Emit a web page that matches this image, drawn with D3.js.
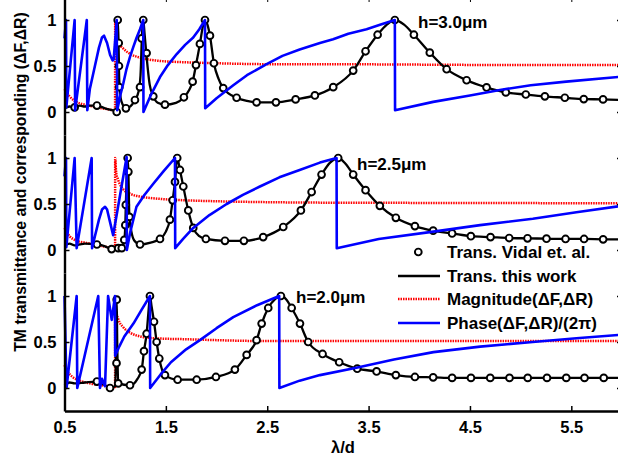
<!DOCTYPE html>
<html>
<head>
<meta charset="utf-8">
<script src="https://cdn.jsdelivr.net/npm/d3@7"></script>
<style>
  body { margin: 0; background: #fff; }
  text { font-family: "Liberation Sans", Arial, sans-serif; font-weight: bold; }
</style>
</head>
<body>
<div id="chart"></div>
<script>
const width = 618
const height = 461

const xTicks = [0.5, 1.5, 2.5, 3.5, 4.5, 5.5]
const yTicks = [0, 0.5, 1]
const panelLabels = ["h=3.0\u03bcm", "h=2.5\u03bcm", "h=2.0\u03bcm"]
const legendLabels = ["Trans. Vidal et. al.", "Trans. this work", "Magnitude(\u0394F,\u0394R)", "Phase(\u0394F,\u0394R)/(2\u03c0)"]

// h = 3.0um
const vidal30 = [[0.6,0.05],[0.82,0.07],[1.015,0.0],[1.025,1.0],[1.035,0.75],[1.037,0.5],[1.04,0.27],[1.106,0.04],[1.195,0.13],[1.245,0.27],[1.261,0.80],[1.277,1.0],[1.31,0.64],[1.376,0.17],[1.491,0.08],[1.678,0.16],[1.764,0.33],[1.797,0.51],[1.836,0.74],[1.886,1.0],[1.935,0.83],[1.974,0.53],[2.066,0.26],[2.198,0.155],[2.395,0.105],[2.586,0.105],[2.78,0.137],[2.97,0.18],[3.151,0.27],[3.348,0.45],[3.47,0.66],[3.589,0.84],[3.759,1.0],[3.947,0.84],[4.104,0.645],[4.27,0.465],[4.467,0.345],[4.664,0.267],[4.854,0.213],[5.051,0.19],[5.239,0.17],[5.436,0.155],[5.623,0.14],[5.813,0.137]]
const trans30 = [[0.5,0.04],[0.55,0.06],[0.6,0.05],[0.65,0.07],[0.7,0.06],[0.75,0.07],[0.82,0.07],[0.9,0.04],[0.97,0.02],[1.0,0.01],[1.015,0.0],[1.021,0.6],[1.025,1.0],[1.032,0.8],[1.04,0.35],[1.06,0.12],[1.106,0.04],[1.15,0.06],[1.195,0.13],[1.23,0.22],[1.25,0.4],[1.265,0.85],[1.277,1.0],[1.29,0.85],[1.31,0.6],[1.34,0.3],[1.376,0.17],[1.42,0.1],[1.491,0.08],[1.6,0.1],[1.678,0.16],[1.73,0.24],[1.764,0.33],[1.797,0.51],[1.836,0.74],[1.865,0.93],[1.886,1.0],[1.91,0.95],[1.935,0.83],[1.974,0.53],[2.02,0.36],[2.066,0.26],[2.198,0.155],[2.3,0.12],[2.395,0.105],[2.586,0.105],[2.78,0.137],[2.97,0.18],[3.151,0.27],[3.348,0.45],[3.47,0.66],[3.589,0.84],[3.68,0.95],[3.759,1.0],[3.85,0.95],[3.947,0.84],[4.104,0.645],[4.27,0.465],[4.467,0.345],[4.664,0.267],[4.854,0.213],[5.051,0.19],[5.239,0.17],[5.436,0.155],[5.623,0.14],[5.813,0.137],[6.0,0.13]]
const mag30 = [[0.5,0.25],[0.55,0.17],[0.6,0.12],[0.7,0.08],[0.8,0.055],[0.9,0.035],[0.999,0.02],[1.0,1.0],[1.01,0.85],[1.03,0.76],[1.08,0.69],[1.15,0.63],[1.25,0.59],[1.4,0.56],[1.7,0.54],[2.0,0.53],[2.5,0.52],[3.0,0.52],[4.0,0.515],[5.0,0.51],[6.0,0.51]]
const phase30 = [[0.5,0.8],[0.515,1.0],[0.518,0.05],[0.6,1.0],[0.605,0.02],[0.72,1.0],[0.725,0.02],[0.75,0.25],[0.8,0.5],[0.84,0.7],[0.87,0.81],[0.89,0.83],[0.92,0.75],[0.95,0.62],[0.975,0.56],[0.985,0.57],[1.015,1.0],[1.02,0.02],[1.05,0.18],[1.08,0.31],[1.11,0.46],[1.146,0.6],[1.18,0.71],[1.212,0.81],[1.245,0.9],[1.277,1.0],[1.279,0.0],[1.35,0.18],[1.442,0.38],[1.52,0.51],[1.607,0.63],[1.69,0.73],[1.77,0.81],[1.83,0.9],[1.886,1.0],[1.888,0.04],[2.0,0.15],[2.165,0.29],[2.3,0.4],[2.494,0.52],[2.65,0.61],[2.82,0.68],[3.02,0.75],[3.15,0.79],[3.3,0.85],[3.48,0.9],[3.62,0.95],[3.759,1.0],[3.761,0.02],[4.137,0.11],[4.5,0.18],[4.795,0.24],[5.1,0.29],[5.45,0.33],[6.0,0.385]]

// h = 2.5um
const vidal25 = [[0.82,0.06],[0.965,0.01],[1.03,0.02],[1.065,0.02],[1.09,0.11],[1.1,0.27],[1.105,0.49],[1.123,1.0],[1.13,0.85],[1.14,0.36],[1.245,0.06],[1.442,0.12],[1.54,0.33],[1.567,0.54],[1.59,0.74],[1.612,1.0],[1.639,0.87],[1.672,0.69],[1.721,0.43],[1.77,0.24],[1.895,0.12],[2.083,0.1],[2.27,0.1],[2.46,0.14],[2.658,0.25],[2.832,0.43],[2.938,0.63],[3.036,0.82],[3.2,1.0],[3.348,0.82],[3.47,0.65],[3.611,0.48],[3.769,0.35],[3.957,0.26],[4.137,0.21],[4.324,0.18],[4.509,0.15],[4.703,0.14],[4.887,0.13],[5.068,0.127],[5.255,0.123],[5.443,0.12],[5.626,0.12],[5.814,0.116]]
const trans25 = [[0.5,0.05],[0.55,0.07],[0.6,0.05],[0.65,0.06],[0.7,0.07],[0.82,0.06],[0.9,0.04],[0.965,0.01],[1.0,0.01],[1.065,0.02],[1.09,0.11],[1.1,0.27],[1.105,0.49],[1.115,0.85],[1.123,1.0],[1.13,0.85],[1.14,0.36],[1.16,0.2],[1.19,0.1],[1.245,0.06],[1.35,0.08],[1.442,0.12],[1.5,0.2],[1.54,0.33],[1.567,0.54],[1.59,0.74],[1.612,1.0],[1.639,0.87],[1.672,0.69],[1.721,0.43],[1.77,0.24],[1.83,0.15],[1.895,0.12],[2.083,0.1],[2.27,0.1],[2.46,0.14],[2.658,0.25],[2.832,0.43],[2.938,0.63],[3.036,0.82],[3.12,0.95],[3.2,1.0],[3.27,0.94],[3.348,0.82],[3.47,0.65],[3.611,0.48],[3.769,0.35],[3.957,0.26],[4.137,0.21],[4.324,0.18],[4.509,0.15],[4.703,0.14],[4.887,0.13],[5.068,0.127],[5.255,0.123],[5.443,0.12],[5.626,0.12],[5.814,0.116],[6.0,0.115]]
const mag25 = [[0.5,0.24],[0.55,0.15],[0.6,0.11],[0.7,0.08],[0.8,0.06],[0.9,0.035],[0.999,0.02],[1.0,1.0],[1.01,0.84],[1.03,0.76],[1.08,0.66],[1.15,0.61],[1.25,0.58],[1.4,0.56],[1.7,0.54],[2.0,0.53],[2.5,0.52],[3.0,0.515],[4.0,0.512],[5.0,0.51],[6.0,0.507]]
const phase25 = [[0.5,0.8],[0.515,1.0],[0.518,0.03],[0.6,1.0],[0.62,0.02],[0.768,1.0],[0.772,0.02],[0.8,0.15],[0.84,0.33],[0.87,0.44],[0.9,0.47],[0.92,0.44],[0.95,0.3],[0.98,0.16],[1.113,1.01],[1.115,0.0],[1.15,0.2],[1.21,0.47],[1.29,0.6],[1.376,0.72],[1.48,0.86],[1.59,1.0],[1.592,0.02],[1.67,0.12],[1.77,0.24],[1.93,0.38],[2.1,0.5],[2.26,0.6],[2.428,0.69],[2.62,0.79],[2.82,0.87],[3.02,0.95],[3.184,1.0],[3.186,0.02],[3.6,0.12],[4.14,0.2],[4.6,0.27],[5.12,0.34],[5.55,0.41],[6.0,0.48]]

// h = 2.0um
const vidal20 = [[0.82,0.07],[0.949,0.0],[1.015,0.96],[1.013,0.27],[1.03,0.05],[1.146,0.03],[1.261,0.2],[1.284,0.4],[1.31,0.59],[1.343,1.0],[1.383,0.72],[1.409,0.5],[1.435,0.32],[1.491,0.14],[1.616,0.09],[1.804,0.09],[1.994,0.12],[2.181,0.2],[2.297,0.36],[2.395,0.52],[2.445,0.7],[2.51,0.87],[2.635,1.0],[2.741,0.87],[2.823,0.7],[2.904,0.5],[3.046,0.37],[3.21,0.28],[3.388,0.21],[3.579,0.18],[3.769,0.14],[3.957,0.12],[4.137,0.116],[4.324,0.11],[4.51,0.11],[4.7,0.11],[4.89,0.11],[5.07,0.11],[5.26,0.11],[5.45,0.11],[5.63,0.11],[5.82,0.11]]
const trans20 = [[0.5,0.03],[0.55,0.06],[0.6,0.05],[0.7,0.06],[0.82,0.07],[0.9,0.03],[0.949,0.0],[1.0,0.02],[1.008,0.4],[1.015,0.96],[1.02,0.5],[1.025,0.2],[1.03,0.05],[1.146,0.03],[1.22,0.1],[1.261,0.2],[1.284,0.4],[1.31,0.59],[1.33,0.85],[1.343,1.0],[1.36,0.88],[1.383,0.72],[1.409,0.5],[1.435,0.32],[1.491,0.14],[1.616,0.09],[1.804,0.09],[1.994,0.12],[2.181,0.2],[2.297,0.36],[2.395,0.52],[2.445,0.7],[2.51,0.87],[2.58,0.97],[2.635,1.0],[2.69,0.96],[2.741,0.87],[2.823,0.7],[2.904,0.5],[3.046,0.37],[3.21,0.28],[3.388,0.21],[3.579,0.18],[3.769,0.14],[3.957,0.12],[4.137,0.116],[4.324,0.11],[5.0,0.11],[6.0,0.11]]
const mag20 = [[0.5,0.25],[0.53,0.18],[0.58,0.12],[0.65,0.08],[0.75,0.05],[0.9,0.025],[0.999,0.01],[1.0,1.0],[1.01,0.84],[1.03,0.75],[1.08,0.66],[1.15,0.6],[1.25,0.56],[1.4,0.54],[1.7,0.53],[2.0,0.52],[2.5,0.51],[3.0,0.51],[4.0,0.51],[5.0,0.51],[6.0,0.51]]
const phase20 = [[0.5,1.0],[0.52,0.0],[0.62,1.0],[0.626,0.0],[0.833,1.0],[0.85,0.0],[0.87,0.1],[0.9,0.02],[0.93,1.0],[0.966,0.74],[0.998,1.0],[1.0,0.35],[1.04,0.45],[1.09,0.56],[1.18,0.7],[1.26,0.85],[1.343,1.0],[1.345,0.0],[1.45,0.15],[1.55,0.28],[1.7,0.42],[1.836,0.52],[2.0,0.65],[2.165,0.77],[2.4,0.9],[2.618,1.0],[2.62,0.0],[2.82,0.08],[3.02,0.14],[3.38,0.22],[3.75,0.31],[4.14,0.39],[4.6,0.45],[5.12,0.5],[5.55,0.54],[6.0,0.58]]

const panels = [
  { label: panelLabels[0], vidal: vidal30, trans: trans30, mag: mag30, phase: phase30, lx: 418, ly: 22 },
  { label: panelLabels[1], vidal: vidal25, trans: trans25, mag: mag25, phase: phase25, lx: 357, ly: 164 },
  { label: panelLabels[2], vidal: vidal20, trans: trans20, mag: mag20, phase: phase20, lx: 296, ly: 297 }
]

const plotLeft = 64.5, plotRight = 622
const panelH = 138, firstTop = -3
const bottomY = firstTop + 3 * panelH

let svg = d3.select("#chart").append("svg")
    .attr("width", width)
    .attr("height", height)

let x = d3.scaleLinear().domain([0.5, 6]).range([plotLeft, plotRight])

let line = d3.line()
    .curve(d3.curveMonotoneX)
    .x(d => x(d[0]))

panels.forEach(function (p, i) {
    let top = firstTop + i * panelH
    let y = d3.scaleLinear().domain([-0.25, 1.25]).range([top + panelH, top])
    line.y(d => y(d[1]))

    let g = svg.append("g")

    g.append("path").datum(p.mag)
        .attr("d", line)
        .attr("fill", "none").attr("stroke", "#ff0000")
        .attr("stroke-width", 2.5).attr("stroke-dasharray", "1.5,1")

    g.append("path").datum(p.trans)
        .attr("d", line)
        .attr("fill", "none").attr("stroke", "#000")
        .attr("stroke-width", 2.3)

    g.selectAll("circle").data(p.vidal).enter()
        .append("circle")
        .attr("cx", d => x(d[0]))
        .attr("cy", d => y(d[1]))
        .attr("r", 3.4)
        .attr("fill", "#fff").attr("stroke", "#000").attr("stroke-width", 1.9)

    // phase: straight segments between read points
    g.append("path").datum(p.phase)
        .attr("d", d3.line().x(d => x(d[0])).y(d => y(d[1])))
        .attr("fill", "none").attr("stroke", "#0000ff")
        .attr("stroke-width", 2.6).attr("stroke-linejoin", "round")

    g.append("text")
        .attr("x", p.lx).attr("y", p.ly)
        .attr("dy", "0.35em")
        .style("font-size", "17px")
        .text(p.label)

    // left and right axes, ticks pointing in
    let left = svg.append("g")
        .attr("transform", `translate(${plotLeft},0)`)
        .call(d3.axisLeft(y).tickValues(yTicks).tickSizeInner(-5).tickSizeOuter(0).tickPadding(8)
            .tickFormat(d => d === 0 || d === 1 ? d3.format("d")(d) : d))
    left.selectAll("text").style("font-size", "16.5px").style("font-family", "Liberation Sans, Arial, sans-serif").style("font-weight", "bold")

    svg.append("g")
        .attr("transform", `translate(${plotRight},0)`)
        .call(d3.axisRight(y).tickValues(yTicks).tickSizeInner(-5).tickSizeOuter(0).tickFormat(""))
})

svg.selectAll(".domain").attr("stroke-width", 2.4)
svg.selectAll(".tick line").attr("stroke-width", 1.5)

let bottom = svg.append("g")
    .attr("transform", `translate(0,${bottomY})`)
    .call(d3.axisBottom(x).tickValues(xTicks).tickSizeInner(-5).tickSizeOuter(0).tickPadding(10)
        .tickFormat(d3.format(".1f")))
bottom.select(".domain").attr("stroke-width", 2.6)
bottom.selectAll(".tick line").attr("stroke-width", 1.5)
bottom.selectAll("text").style("font-size", "16.5px").style("font-family", "Liberation Sans, Arial, sans-serif").style("font-weight", "bold")

svg.append("g")
    .attr("transform", `translate(0,${firstTop})`)
    .call(d3.axisTop(x).tickValues(xTicks).tickSizeInner(-5).tickSizeOuter(0).tickFormat(""))

// axis titles
svg.append("text")
    .attr("x", 343).attr("y", 447)
    .attr("text-anchor", "middle").attr("dy", "0.35em")
    .style("font-size", "16.5px")
    .text("\u03bb/d")

svg.append("text")
    .attr("transform", "translate(20,182) rotate(-90)")
    .attr("text-anchor", "middle").attr("dy", "0.35em")
    .style("font-size", "15.8px")
    .text("TM transmittance and corresponding (\u0394F,\u0394R)")

// legend
let legY = [252, 276, 299, 323]
let lg = svg.append("g")
lg.append("circle").attr("cx", 418.3).attr("cy", legY[0]).attr("r", 3.4)
    .attr("fill", "#fff").attr("stroke", "#000").attr("stroke-width", 1.9)
lg.append("line").attr("x1", 398).attr("x2", 440).attr("y1", legY[1]).attr("y2", legY[1])
    .attr("stroke", "#000").attr("stroke-width", 2.3)
lg.append("line").attr("x1", 398).attr("x2", 440).attr("y1", legY[2]).attr("y2", legY[2])
    .attr("stroke", "#ff0000").attr("stroke-width", 2.5).attr("stroke-dasharray", "1.5,1")
lg.append("line").attr("x1", 398).attr("x2", 440).attr("y1", legY[3]).attr("y2", legY[3])
    .attr("stroke", "#0000ff").attr("stroke-width", 2.6)
lg.selectAll("text.leg").data(legendLabels).enter()
    .append("text")
    .attr("class", "leg")
    .attr("x", 447)
    .attr("y", (d, i) => legY[i])
    .attr("dy", "0.35em")
    .style("font-size", "17px")
    .text(d => d)
</script>
</body>
</html>
